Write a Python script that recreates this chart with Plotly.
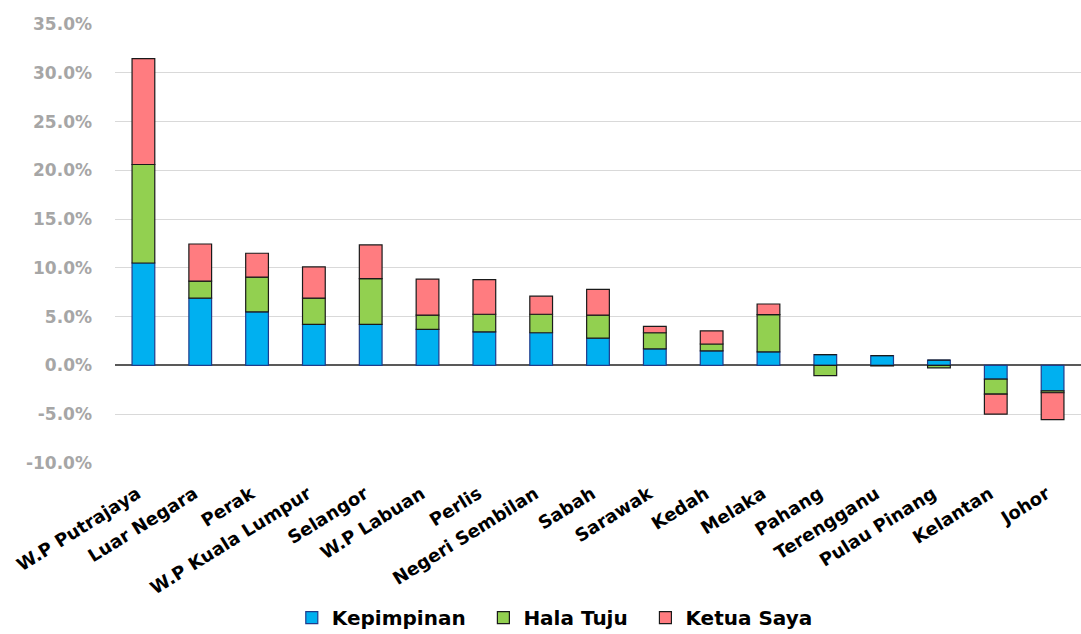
import plotly.graph_objects as go

categories = ["W.P Putrajaya", "Luar Negara", "Perak", "W.P Kuala Lumpur", "Selangor",
              "W.P Labuan", "Perlis", "Negeri Sembilan", "Sabah", "Sarawak", "Kedah",
              "Melaka", "Pahang", "Terengganu", "Pulau Pinang", "Kelantan", "Johor"]
kepimpinan = [10.5, 6.9, 5.5, 4.2, 4.2, 3.7, 3.45, 3.35, 2.8, 1.7, 1.5, 1.4, 1.1, 1.0, 0.55, -1.4, -2.6]
hala_tuju = [10.1, 1.75, 3.55, 2.7, 4.7, 1.45, 1.8, 1.9, 2.35, 1.65, 0.7, 3.8, -1.05, -0.05, -0.25, -1.55, -0.2]
ketua_saya = [10.85, 3.8, 2.45, 3.2, 3.45, 3.7, 3.55, 1.85, 2.65, 0.65, 1.35, 1.1, 0.0, 0.0, 0.0, -2.05, -2.75]
y_ticks = [-10, -5, 0, 5, 10, 15, 20, 25, 30, 35]

FONT = "DejaVu Sans, Liberation Sans, Arial, sans-serif"

series = [("Kepimpinan", kepimpinan, "#00B0F0", "#1F3C8C"),
          ("Hala Tuju", hala_tuju, "#92D050", "#1A1A1A"),
          ("Ketua Saya", ketua_saya, "#FF7C80", "#1A1A1A")]

fig = go.Figure()
for name, vals, col, line in series:
    fig.add_trace(go.Bar(x=categories, y=vals, name=f"<b>{name}</b>&nbsp;&nbsp;",
                         marker=dict(color=col, line=dict(color=line, width=1.2))))

fig.update_layout(
    barmode="relative",
    bargap=0.6,
    width=1081, height=634,
    margin=dict(l=115, r=0, t=24, b=171, autoexpand=False),
    paper_bgcolor="white", plot_bgcolor="white",
    font=dict(family=FONT),
    showlegend=True,
    legend=dict(orientation="h", x=0.462, xanchor="center", y=-0.352, yanchor="middle",
                font=dict(size=20, color="#000000", family=FONT),
                traceorder="normal", itemwidth=30, tracegroupgap=0),
    xaxis=dict(tickangle=-32, tickfont=dict(size=18, color="#000000", family=FONT),
               tickvals=categories, ticktext=[f"<b>{c}</b>" for c in categories],
               showgrid=False, showline=False, ticks="", automargin=False,
               ticklabelstandoff=16, ticklabelshift=-6),
    yaxis=dict(range=[-10, 35], tickvals=y_ticks,
               ticktext=[f"<b>{v:.1f}%</b>" for v in y_ticks],
               tickfont=dict(size=17, color="#A6A6A6", family=FONT),
               showgrid=True, gridcolor="#D9D9D9", gridwidth=1,
               zeroline=True, zerolinecolor="#595959", zerolinewidth=1.5,
               showline=False, ticks="", ticklabelstandoff=22, automargin=False),
)

fig.write_html("out.html")
